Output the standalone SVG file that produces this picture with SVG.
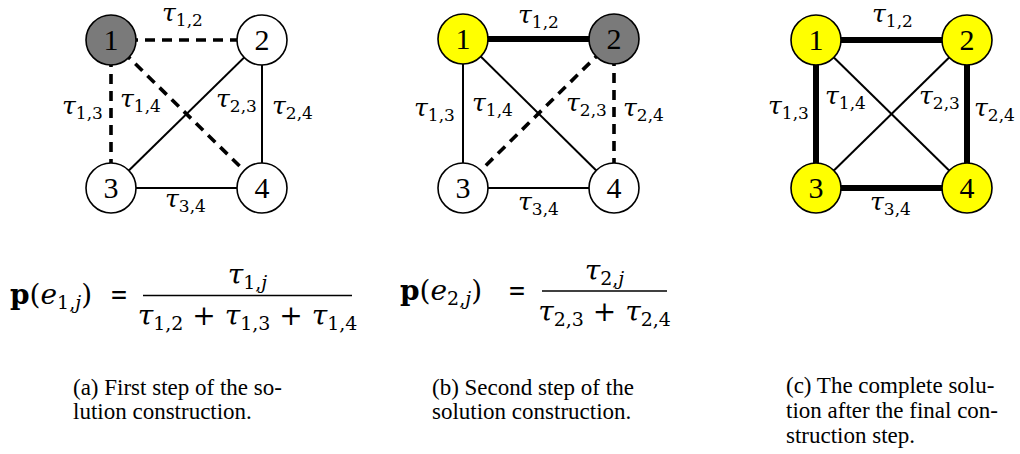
<svg xmlns="http://www.w3.org/2000/svg" width="1020" height="454" viewBox="0 0 1020 454">
<style>
.thin{stroke:#000;stroke-width:2;fill:none}
.thick{stroke:#000;stroke-width:6;fill:none}
.dash{stroke:#000;stroke-width:3.6;fill:none;stroke-dasharray:10 7}
.node{stroke:#000;stroke-width:1.6}
.w{fill:#fff}.g{fill:#7a7a7a}.y{fill:#ffff00}
.num{font-family:"Liberation Serif",serif;font-size:30px;text-anchor:middle;fill:#000}
.lbl{font-family:"DejaVu Serif",serif;font-size:25px;font-style:italic;fill:#000}
.sub{font-size:17px;font-style:normal}
.f{font-family:"DejaVu Serif",serif;font-size:28px;fill:#000}
.fs{font-size:19px;font-style:normal}
.it{font-style:italic}
.bd{font-weight:bold}
.bar{stroke:#000;stroke-width:1.3}
.cap{font-family:"Liberation Serif",serif;font-size:23px;fill:#000}
</style>

<g id="connectors">
  <line class="dash" x1="111" y1="40" x2="262" y2="40"/>
  <line class="dash" x1="111" y1="40" x2="111" y2="188"/>
  <line class="dash" x1="111" y1="40" x2="262" y2="188"/>
  <line class="thin" x1="262" y1="40" x2="111" y2="188"/>
  <line class="thin" x1="262" y1="40" x2="262" y2="188"/>
  <line class="thin" x1="111" y1="188" x2="262" y2="188"/>
  <line class="thick" x1="463" y1="39" x2="614" y2="39"/>
  <line class="thin" x1="463" y1="39" x2="463" y2="188"/>
  <line class="thin" x1="463" y1="39" x2="614" y2="188"/>
  <line class="dash" x1="614" y1="39" x2="463" y2="188"/>
  <line class="dash" x1="614" y1="39" x2="614" y2="188"/>
  <line class="thin" x1="463" y1="188" x2="614" y2="188"/>
  <line class="thick" x1="816" y1="40" x2="967" y2="40"/>
  <line class="thick" x1="816" y1="40" x2="816" y2="188"/>
  <line class="thin" x1="816" y1="40" x2="967" y2="188"/>
  <line class="thin" x1="967" y1="40" x2="816" y2="188"/>
  <line class="thick" x1="967" y1="40" x2="967" y2="188"/>
  <line class="thick" x1="816" y1="188" x2="967" y2="188"/>
</g>

<g id="a-n1"><circle class="node g" cx="111" cy="40" r="25"/><text class="num" x="111" y="50">1</text></g>
<g id="a-n2"><circle class="node w" cx="262" cy="40" r="25"/><text class="num" x="262" y="50">2</text></g>
<g id="a-n3"><circle class="node w" cx="111" cy="188" r="25"/><text class="num" x="111" y="198">3</text></g>
<g id="a-n4"><circle class="node w" cx="262" cy="188" r="25"/><text class="num" x="262" y="198">4</text></g>

<g id="b-n1"><circle class="node y" cx="463" cy="39" r="25"/><text class="num" x="463" y="49">1</text></g>
<g id="b-n2"><circle class="node g" cx="614" cy="39" r="25"/><text class="num" x="614" y="49">2</text></g>
<g id="b-n3"><circle class="node w" cx="463" cy="188" r="25"/><text class="num" x="463" y="198">3</text></g>
<g id="b-n4"><circle class="node w" cx="614" cy="188" r="25"/><text class="num" x="614" y="198">4</text></g>

<g id="c-n1"><circle class="node y" cx="816" cy="40" r="25"/><text class="num" x="816" y="50">1</text></g>
<g id="c-n2"><circle class="node y" cx="967" cy="40" r="25"/><text class="num" x="967" y="50">2</text></g>
<g id="c-n3"><circle class="node y" cx="816" cy="188" r="25"/><text class="num" x="816" y="198">3</text></g>
<g id="c-n4"><circle class="node y" cx="967" cy="188" r="25"/><text class="num" x="967" y="198">4</text></g>

<g id="labels">
  <text class="lbl" x="162" y="21">τ<tspan class="sub" dy="5">1,2</tspan></text>
  <text class="lbl" x="62" y="114">τ<tspan class="sub" dy="5">1,3</tspan></text>
  <text class="lbl" x="120" y="107">τ<tspan class="sub" dy="5">1,4</tspan></text>
  <text class="lbl" x="216" y="107">τ<tspan class="sub" dy="5">2,3</tspan></text>
  <text class="lbl" x="272" y="114">τ<tspan class="sub" dy="5">2,4</tspan></text>
  <text class="lbl" x="165" y="207">τ<tspan class="sub" dy="5">3,4</tspan></text>

  <text class="lbl" x="518" y="23">τ<tspan class="sub" dy="5">1,2</tspan></text>
  <text class="lbl" x="414" y="116">τ<tspan class="sub" dy="5">1,3</tspan></text>
  <text class="lbl" x="472" y="111">τ<tspan class="sub" dy="5">1,4</tspan></text>
  <text class="lbl" x="566" y="111">τ<tspan class="sub" dy="5">2,3</tspan></text>
  <text class="lbl" x="623" y="116">τ<tspan class="sub" dy="5">2,4</tspan></text>
  <text class="lbl" x="518" y="210">τ<tspan class="sub" dy="5">3,4</tspan></text>

  <text class="lbl" x="872" y="22">τ<tspan class="sub" dy="5">1,2</tspan></text>
  <text class="lbl" x="768" y="114">τ<tspan class="sub" dy="5">1,3</tspan></text>
  <text class="lbl" x="825" y="104">τ<tspan class="sub" dy="5">1,4</tspan></text>
  <text class="lbl" x="919" y="104">τ<tspan class="sub" dy="5">2,3</tspan></text>
  <text class="lbl" x="974" y="116">τ<tspan class="sub" dy="5">2,4</tspan></text>
  <text class="lbl" x="870" y="210">τ<tspan class="sub" dy="5">3,4</tspan></text>
</g>

<g id="formula-a">
  <text class="f" x="10" y="304"><tspan class="bd">p</tspan>(<tspan class="it">e</tspan><tspan class="fs" dy="5">1,<tspan class="it">j</tspan></tspan><tspan dy="-5">)</tspan></text>
  <text class="f" x="110" y="304" textLength="18" lengthAdjust="spacingAndGlyphs">=</text>
  <line class="bar" x1="143" y1="295.5" x2="352" y2="295.5"/>
  <text class="f" x="247.5" y="284" text-anchor="middle"><tspan class="it">τ</tspan><tspan class="fs" dy="5">1,<tspan class="it">j</tspan></tspan></text>
  <text class="f" x="247.5" y="325" text-anchor="middle"><tspan class="it">τ</tspan><tspan class="fs" dy="5">1,2</tspan><tspan dy="-5"> + </tspan><tspan class="it">τ</tspan><tspan class="fs" dy="5">1,3</tspan><tspan dy="-5"> + </tspan><tspan class="it">τ</tspan><tspan class="fs" dy="5">1,4</tspan></text>
</g>

<g id="formula-b">
  <text class="f" x="400" y="300"><tspan class="bd">p</tspan>(<tspan class="it">e</tspan><tspan class="fs" dy="5">2,<tspan class="it">j</tspan></tspan><tspan dy="-5">)</tspan></text>
  <text class="f" x="508" y="300" textLength="18" lengthAdjust="spacingAndGlyphs">=</text>
  <line class="bar" x1="542" y1="291" x2="667" y2="291"/>
  <text class="f" x="604.5" y="280" text-anchor="middle"><tspan class="it">τ</tspan><tspan class="fs" dy="5">2,<tspan class="it">j</tspan></tspan></text>
  <text class="f" x="604.5" y="321" text-anchor="middle"><tspan class="it">τ</tspan><tspan class="fs" dy="5">2,3</tspan><tspan dy="-5"> + </tspan><tspan class="it">τ</tspan><tspan class="fs" dy="5">2,4</tspan></text>
</g>

<g id="captions">
  <text class="cap" x="73" y="395">(a) First step of the so-</text>
  <text class="cap" x="73" y="419">lution construction.</text>
  <text class="cap" x="432" y="395">(b) Second step of the</text>
  <text class="cap" x="432" y="419">solution construction.</text>
  <text class="cap" x="786" y="393">(c) The complete solu-</text>
  <text class="cap" x="786" y="418">tion after the final con-</text>
  <text class="cap" x="786" y="443">struction step.</text>
</g>
</svg>
